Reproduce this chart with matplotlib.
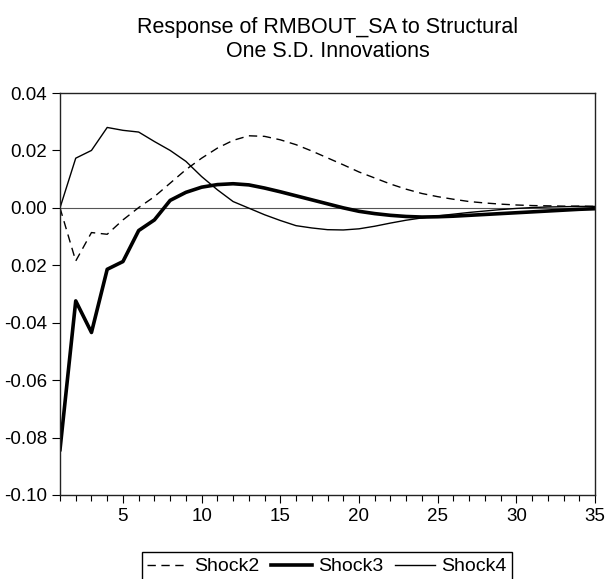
import matplotlib
matplotlib.use("Agg")
import matplotlib.pyplot as plt
from matplotlib.ticker import MultipleLocator, FixedLocator

plt.rcParams['font.family'] = ['Liberation Sans', 'DejaVu Sans']

periods = list(range(1, 36))

shock2 = [0.0, -0.0185, -0.0086, -0.0092, -0.0042, 0.0001, 0.0039, 0.0086, 0.0133, 0.0173,
          0.0208, 0.0235, 0.0251, 0.0249, 0.0237, 0.0220, 0.0198, 0.0174, 0.0150, 0.0125,
          0.0104, 0.0083, 0.0065, 0.0050, 0.0039, 0.0030, 0.0022, 0.0017, 0.0013, 0.0010,
          0.0008, 0.0007, 0.0006, 0.0006, 0.0005]

shock3 = [-0.0842, -0.0324, -0.0434, -0.0214, -0.0187, -0.0079, -0.0042, 0.0026, 0.0054, 0.0072,
          0.0081, 0.0084, 0.0080, 0.0069, 0.0056, 0.0042, 0.0028, 0.0014, 0.0000, -0.0012,
          -0.0020, -0.0026, -0.0030, -0.0032, -0.0031, -0.0029, -0.0026, -0.0023, -0.0020, -0.0017,
          -0.0014, -0.0011, -0.0008, -0.0005, -0.0003]

shock4 = [0.0, 0.0173, 0.0200, 0.0280, 0.0270, 0.0264, 0.0231, 0.0200, 0.0162, 0.0109,
          0.0063, 0.0022, -0.0001, -0.0024, -0.0044, -0.0062, -0.0070, -0.0076, -0.0077, -0.0073,
          -0.0064, -0.0053, -0.0043, -0.0035, -0.0028, -0.0022, -0.0016, -0.0011, -0.0006, -0.0002,
          0.0001, 0.0003, 0.0004, 0.0005, 0.0005]

y_ticks = [0.04, 0.02, 0.00, -0.02, -0.04, -0.06, -0.08, -0.10]
y_labels = ['0.04', '0.02', '0.00', '0.02', '-0.04', '-0.06', '-0.08', '-0.10']
x_ticks = [5, 10, 15, 20, 25, 30, 35]

fig = plt.figure(figsize=(6.06, 5.79), dpi=100)
ax = fig.add_axes([60 / 606, 84 / 579, 535 / 606, 402 / 579])

ax.axhline(0, color='#555555', linewidth=0.8, zorder=1)
ax.plot(periods, shock2, color='black', linewidth=1.0, linestyle=(0, (6, 4)), label='Shock2')
ax.plot(periods, shock3, color='black', linewidth=2.6, label='Shock3')
ax.plot(periods, shock4, color='black', linewidth=1.0, label='Shock4')

ax.set_xlim(1, 35)
ax.set_ylim(-0.10, 0.04)
ax.yaxis.set_major_locator(FixedLocator(y_ticks))
ax.set_yticklabels(y_labels)
ax.set_xticks(x_ticks)
ax.xaxis.set_minor_locator(MultipleLocator(1))
ax.tick_params(axis='both', which='major', labelsize=13.5, length=6, width=0.8, direction='out')
ax.tick_params(axis='x', which='minor', length=4, width=0.8, direction='out')
for s in ax.spines.values():
    s.set_linewidth(1.0)
    s.set_color('#222222')

ax.set_title("Response of RMBOUT_SA to Structural\nOne S.D. Innovations",
             fontsize=15.5, pad=26, linespacing=1.2)

fig.legend(loc='upper center', bbox_to_anchor=(327 / 606, 27 / 579), ncol=3,
           fontsize=14, frameon=True, fancybox=False, edgecolor='black', framealpha=1,
           handlelength=2.1, columnspacing=0.6, handletextpad=0.3, borderpad=0.3,
           borderaxespad=0)

fig.savefig('out.png', dpi=100)
